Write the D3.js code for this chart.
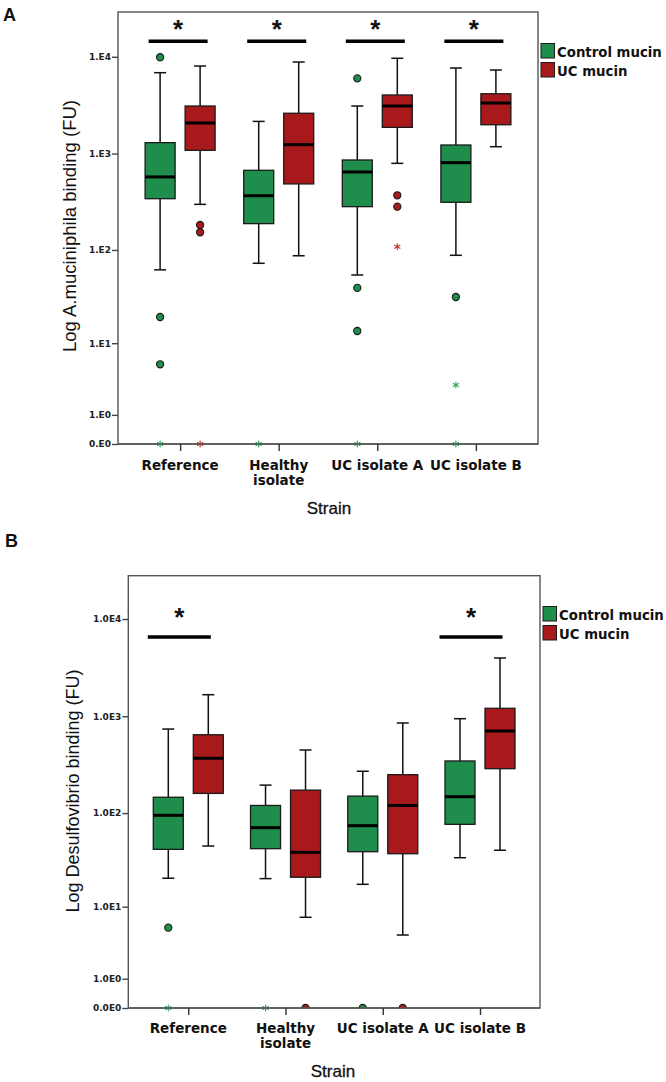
<!DOCTYPE html>
<html><head><meta charset="utf-8">
<script src="https://cdn.jsdelivr.net/npm/d3@7"></script>
<style>body{margin:0;background:#fff}svg{display:block}</style>
</head><body>
<svg id="chart" width="666" height="1082"></svg>
<script>
// ---------- data ----------
const categories = ["Reference", "Healthy isolate", "UC isolate A", "UC isolate B"];
const categoryLabelLines = [["Reference"], ["Healthy", "isolate"], ["UC isolate A"], ["UC isolate B"]];
const seriesNames = ["Control mucin", "UC mucin"];
const tickValues = [0, 1, 10, 100, 1000, 10000];
const tickLabelsA = ["0.E0", "1.E0", "1.E1", "1.E2", "1.E3", "1.E4"];
const tickLabelsB = ["0.0E0", "1.0E0", "1.0E1", "1.0E2", "1.0E3", "1.0E4"];

// Panel A: A. muciniphila binding  [lower whisker, Q1, median, Q3, upper whisker]
const aControlStats = [[62, 341, 573, 1296, 6850], [72.6, 188, 366, 671, 2150], [54.7, 282, 645, 858, 3100], [88, 313, 805, 1226, 7660]];
const aUcStats = [[298, 1080, 2070, 3100, 8030], [87, 485, 1235, 2610, 8830], [792, 1865, 3100, 4030, 9650], [1177, 1985, 3330, 4150, 7300]];
const aControlOutliers = [[9900, 19.5, 5.66], [], [5990, 40, 13.7], [32]];
const aUcOutliers = [[182, 153], [], [370, 282], []];
const aControlExtremes = [[0], [0], [0], [3.07, 0]];
const aUcExtremes = [[0], [], [108], []];
const aSignificant = [true, true, true, true];

// Panel B: Desulfovibrio binding
const bControlStats = [[20.6, 41.8, 94.8, 146, 738], [20.4, 42.5, 70.5, 120, 195], [17.7, 39.5, 74, 150, 271], [34.1, 76.4, 148, 346, 943]];
const bUcStats = [[45.3, 160, 369, 645, 1665], [7.57, 21.1, 38.9, 173, 449], [4.63, 37.6, 120, 250, 852], [40.9, 288, 704, 1207, 3970]];
const bControlOutliers = [[5.7], [], [0], []];
const bUcOutliers = [[], [0], [0], []];
const bControlExtremes = [[0], [0], [], []];
const bUcExtremes = [[], [], [], []];
const bSignificant = [true, false, false, true];

// ---------- style ----------
const colors = ["#1f8d4c", "#a8191c"];
const extremeColors = ["#2fa862", "#c0392b"];
const svg = d3.select("#chart");

function drawPanel(p) {
  const g = svg.append("g");
  const x = d3.scalePoint().domain(categories).range([p.left, p.right]).padding(p.pad);
  const y = d3.scaleSymlog().constant(1).domain([0, p.yMax]).range([p.bottom, p.top]);
  const offs = [-20, 20], bw = 30, cap = 12;
  const clipId = "clip" + p.id;
  svg.append("clipPath").attr("id", clipId).append("rect")
    .attr("x", p.left).attr("y", p.top).attr("width", p.right - p.left).attr("height", p.bottom - p.top);

  // frame
  g.append("rect").attr("x", p.left).attr("y", p.top).attr("width", p.right - p.left).attr("height", p.bottom - p.top)
    .attr("fill", "none").attr("stroke", "#555").attr("stroke-width", 1.4);

  const marks = g.append("g");
  [p.control, p.uc].forEach((stats, s) => {
    stats.forEach((st, i) => {
      const cx = x(categories[i]) + offs[s];
      const [lo, q1, md, q3, hi] = st;
      const bg = marks.append("g");
      bg.append("line").attr("x1", cx).attr("x2", cx).attr("y1", y(hi)).attr("y2", y(q3)).attr("stroke", "#111").attr("stroke-width", 1.5);
      bg.append("line").attr("x1", cx).attr("x2", cx).attr("y1", y(q1)).attr("y2", y(lo)).attr("stroke", "#111").attr("stroke-width", 1.5);
      bg.append("line").attr("x1", cx - cap / 2).attr("x2", cx + cap / 2).attr("y1", y(hi)).attr("y2", y(hi)).attr("stroke", "#111").attr("stroke-width", 1.5);
      bg.append("line").attr("x1", cx - cap / 2).attr("x2", cx + cap / 2).attr("y1", y(lo)).attr("y2", y(lo)).attr("stroke", "#111").attr("stroke-width", 1.5);
      bg.append("rect").attr("x", cx - bw / 2).attr("y", y(q3)).attr("width", bw).attr("height", y(q1) - y(q3))
        .attr("fill", colors[s]).attr("stroke", "#1a1a1a").attr("stroke-width", 1.3);
      bg.append("line").attr("x1", cx - bw / 2).attr("x2", cx + bw / 2).attr("y1", y(md)).attr("y2", y(md)).attr("stroke", "#000").attr("stroke-width", 3);
    });
  });
  // outliers (circles)
  const outG = g.append("g").attr("clip-path", `url(#${clipId})`);
  [p.controlOut, p.ucOut].forEach((arr, s) => {
    arr.forEach((vals, i) => {
      vals.forEach(v => {
        outG.append("circle").attr("cx", x(categories[i]) + offs[s]).attr("cy", y(v)).attr("r", 3.6)
          .attr("fill", colors[s]).attr("stroke", "#1a1a1a").attr("stroke-width", 1.1);
      });
    });
  });
  // extremes (asterisks)
  [p.controlExt, p.ucExt].forEach((arr, s) => {
    arr.forEach((vals, i) => {
      vals.forEach(v => {
        g.append("path").attr("d", d3.symbol(d3.symbolAsterisk, 34)())
          .attr("transform", `translate(${x(categories[i]) + offs[s]},${y(v)})`)
          .attr("fill", "none").attr("stroke", extremeColors[s]).attr("stroke-width", 1.1);
      });
    });
  });
  // bottom axis line over markers
  g.append("line").attr("x1", p.left).attr("x2", p.right).attr("y1", p.bottom).attr("y2", p.bottom).attr("stroke", "#555").attr("stroke-width", 1.4);

  // y axis
  const yAxis = d3.axisLeft(y).tickValues(tickValues).tickSize(6).tickPadding(1)
    .tickFormat((d, i) => p.tickLabels[i]);
  const ya = g.append("g").attr("transform", `translate(${p.left},0)`).call(yAxis);
  ya.select(".domain").remove();
  ya.selectAll(".tick line").attr("stroke", "#444").attr("stroke-width", 1.4);
  ya.selectAll(".tick text").attr("font-family", "DejaVu Sans").attr("font-weight", "bold").attr("font-size", 9).attr("fill", "#222");

  // x axis
  const xAxis = d3.axisBottom(x).tickSize(7).tickFormat("");
  const xa = g.append("g").attr("transform", `translate(0,${p.bottom})`).call(xAxis);
  xa.select(".domain").remove();
  xa.selectAll(".tick line").attr("stroke", "#333").attr("stroke-width", 1.4);
  categories.forEach((c, i) => {
    const t = g.append("text").attr("x", x(c)).attr("y", p.xLabelY).attr("text-anchor", "middle")
      .attr("font-family", "DejaVu Sans").attr("font-weight", "bold").attr("font-size", 13.5).attr("fill", "#111");
    categoryLabelLines[i].forEach((ln, k) => {
      t.append("tspan").attr("x", x(c)).attr("dy", k === 0 ? 0 : 15).text(ln);
    });
  });

  // axis titles
  g.append("text").attr("transform", `translate(${p.yTitleX},${p.yTitleY}) rotate(-90)`).attr("text-anchor", "middle")
    .attr("font-family", "Liberation Sans, Arial, sans-serif").attr("font-size", 17.5).attr("fill", "#111")
    .attr("textLength", p.yTitleLen).attr("lengthAdjust", "spacingAndGlyphs").text(p.yTitle);
  g.append("text").attr("x", p.xTitleX).attr("y", p.xTitleY).attr("text-anchor", "middle")
    .attr("font-family", "Liberation Sans, Arial, sans-serif").attr("font-size", 17).attr("fill", "#111")
    .attr("stroke", "#111").attr("stroke-width", 0.3).text("Strain");

  // significance bars
  p.sig.forEach((sg, i) => {
    if (!sg) return;
    const cx = x(categories[i]) + p.sigShift;
    g.append("line").attr("x1", cx - p.sigHalf).attr("x2", cx + p.sigHalf).attr("y1", p.sigY).attr("y2", p.sigY)
      .attr("stroke", "#000").attr("stroke-width", 3.5);
    g.append("text").attr("x", cx).attr("y", p.starY).attr("text-anchor", "middle")
      .attr("font-family", "Liberation Sans, Arial, sans-serif").attr("font-weight", "bold").attr("font-size", 26).attr("fill", "#111").text("*");
  });

  // legend
  seriesNames.forEach((n, s) => {
    g.append("rect").attr("x", p.legendX).attr("y", p.legendY + s * 19).attr("width", 13.5).attr("height", 14.5)
      .attr("fill", colors[s]).attr("stroke", "#1a1a1a").attr("stroke-width", 1);
    g.append("text").attr("x", p.legendX + 16).attr("y", p.legendY + 13.5 + s * 19)
      .attr("font-family", "DejaVu Sans").attr("font-weight", "bold").attr("font-size", 13.3).attr("fill", "#111").text(n);
  });

  // panel letter
  g.append("text").attr("x", p.letterX).attr("y", p.letterY).attr("font-family", "Liberation Sans, Arial, sans-serif")
    .attr("font-weight", "bold").attr("font-size", 18).attr("fill", "#111").text(p.letter);
}

drawPanel({
  id: "A", letter: "A", letterX: 3, letterY: 21,
  left: 118, right: 538, top: 12, bottom: 444, yMax: 29020, pad: 0.63,
  control: aControlStats, uc: aUcStats, controlOut: aControlOutliers, ucOut: aUcOutliers,
  controlExt: aControlExtremes, ucExt: aUcExtremes, sig: aSignificant,
  tickLabels: tickLabelsA, xLabelY: 470,
  yTitle: "Log A.muciniphila binding (FU)", yTitleX: 76, yTitleY: 226, yTitleLen: 252,
  xTitleX: 329, xTitleY: 514,
  sigY: 41.3, starY: 37.5, sigShift: -2, sigHalf: 29.5,
  legendX: 541, legendY: 43.5
});
drawPanel({
  id: "B", letter: "B", letterX: 5, letterY: 547,
  left: 128.3, right: 540, top: 575.7, bottom: 1008, yMax: 27900, pad: 0.617,
  control: bControlStats, uc: bUcStats, controlOut: bControlOutliers, ucOut: bUcOutliers,
  controlExt: bControlExtremes, ucExt: bUcExtremes, sig: bSignificant,
  tickLabels: tickLabelsB, xLabelY: 1033,
  yTitle: "Log Desulfovibrio binding (FU)", yTitleX: 79, yTitleY: 791, yTitleLen: 243,
  xTitleX: 333, xTitleY: 1077,
  sigY: 637, starY: 626, sigShift: -9, sigHalf: 31.5,
  legendX: 543, legendY: 606.5
});
</script>
</body></html>
